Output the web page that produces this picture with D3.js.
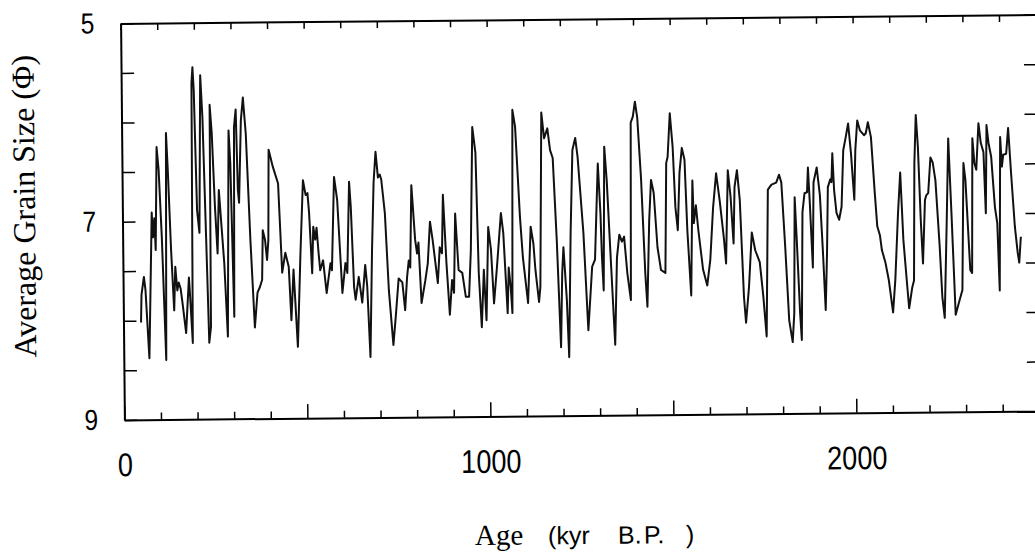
<!DOCTYPE html>
<html>
<head>
<meta charset="utf-8">
<script src="https://cdn.jsdelivr.net/npm/d3@7"></script>
<style>
  html, body { margin: 0; padding: 0; background: #fff; }
  svg { display: block; }
</style>
</head>
<body>
<svg id="chart" width="1035" height="558"></svg>
<script>
// Age (kyr B.P.)
const ages = [
  48,50,57,61,70,77,80,83,87,90,95,100,107,116,121,125,132,139,143,148,
  152,157,162,171,180,182,189,192,195,198,204,210,216,221,228,234,239,241,246,253,
  259,264,271,277,285,292,296,303,307,312,316,319,326,332,339,349,359,367,374,380,
  383,389,394,398,401,412,426,435,444,453,459,466,476,485,494,501,506,510,517,521,
  526,530,535,539,547,556,567,571,579,587,599,608,613,620,624,631,635,644,653,662,
  667,674,681,687,693,699,704,708,717,726,737,744,753,763,770,776,781,785,790,799,
  804,808,815,826,833,840,847,860,866,872,876,884,892,899,904,909,917,927,936,945,
  951,958,966,972,979,986,992,999,1006,1013,1022,1034,1040,1050,1054,1059,1063,1068,1075,1086,
  1093,1106,1115,1122,1127,1136,1140,1147,1154,1163,1170,1177,1186,1195,1200,1204,1212,1217,1224,1231,
  1239,1245,1259,1270,1282,1290,1300,1306,1309,1313,1318,1324,1334,1343,1350,1357,1364,1370,1378,1387,
  1391,1397,1403,1409,1418,1427,1432,1439,1445,1452,1461,1470,1482,1487,1491,1498,1505,1511,1517,1523,
  1530,1537,1543,1552,1558,1561,1567,1573,1585,1596,1605,1614,1623,1632,1643,1648,1655,1662,1669,1673,
  1680,1687,1696,1701,1710,1719,1728,1740,1749,1757,1764,1774,1787,1795,1801,1810,1819,1828,1833,1837,
  1842,1849,1853,1858,1864,1871,1874,1878,1885,1889,1898,1906,1913,1919,1924,1928,1935,1938,1941,1945,
  1951,1958,1965,1971,1978,1985,1992,2000,2004,2010,2017,2028,2033,2039,2047,2056,2062,2069,2074,2083,
  2092,2103,2110,2119,2126,2133,2141,2147,2156,2161,2165,2170,2175,2181,2186,2193,2197,2202,2209,2215,
  2222,2232,2238,2244,2252,2258,2265,2274,2283,2293,2299,2304,2311,2315,2320,2324,2329,2334,2341,2347,
  2354,2359,2363,2368,2375,2384,2390,2395,2400,2404,2408,2416,2422,2429,2438,2445,2449,2454
];
// Average grain size (phi)
const grainSize = [
  8.02,7.74,7.56,7.69,8.38,7.36,6.91,7.16,6.97,7.29,6.25,6.48,7.16,8.40,6.11,6.48,7.29,7.90,7.46,7.70,
  7.62,7.68,7.83,8.13,7.57,7.70,8.23,5.61,5.45,5.68,6.89,7.12,5.53,5.95,7.16,8.23,8.07,5.83,6.11,6.86,
  7.33,6.69,7.09,7.43,8.17,6.09,6.42,7.97,6.06,5.88,6.69,6.82,5.99,5.76,6.12,7.20,8.08,7.73,7.67,7.60,
  7.10,7.20,7.40,7.20,6.29,6.46,6.63,7.53,7.33,7.47,8.01,7.50,8.28,7.37,6.60,6.75,6.73,6.93,7.54,7.07,
  7.20,7.08,7.34,7.51,7.41,7.74,7.44,7.51,6.57,6.80,7.74,7.44,7.54,6.62,6.87,7.68,7.81,7.58,7.84,7.46,
  7.68,8.39,7.31,6.63,6.32,6.58,6.55,6.60,6.94,7.72,8.27,7.99,7.60,7.64,7.92,7.59,7.42,7.49,6.66,7.21,
  7.35,7.24,7.85,7.62,7.45,7.03,7.22,7.65,7.29,7.35,6.76,7.45,7.97,7.62,7.75,6.95,7.52,7.55,7.79,7.79,
  7.32,6.08,6.34,7.55,8.10,7.52,8.03,7.09,7.32,7.86,7.49,6.95,7.15,7.96,7.50,7.70,7.96,5.91,6.08,6.99,
  7.40,7.86,7.09,7.26,7.53,7.85,7.70,5.94,6.20,6.10,6.32,6.40,7.23,8.31,7.56,7.30,7.83,8.41,7.16,6.32,
  6.20,6.39,7.16,8.14,7.50,7.43,6.46,6.96,7.40,7.74,6.29,6.63,7.51,8.29,7.41,7.18,7.25,7.20,7.57,7.84,
  6.05,5.99,5.84,6.00,6.63,7.57,7.91,7.04,6.63,6.76,7.31,7.54,7.57,6.46,6.40,5.96,6.30,6.91,7.14,6.56,
  6.31,6.43,7.14,7.80,6.64,7.07,6.89,7.14,7.54,7.70,7.44,6.91,6.57,6.84,7.24,7.48,6.54,6.81,7.28,6.71,
  6.54,6.84,7.82,8.08,7.72,7.17,7.35,7.47,7.82,8.22,6.74,6.69,6.67,6.59,6.67,7.32,8.06,8.28,7.99,6.82,
  7.28,7.99,8.26,6.97,6.78,6.77,6.52,6.85,7.53,6.67,6.52,6.80,7.38,7.96,7.39,6.72,6.64,6.67,6.38,6.75,
  6.98,7.05,6.92,6.35,6.22,6.08,6.38,6.85,6.35,6.05,6.15,6.20,6.18,6.07,6.22,6.78,7.12,7.21,7.36,7.48,
  7.66,7.99,7.66,6.99,6.58,7.26,7.66,7.95,7.74,7.67,6.49,6.00,6.32,7.06,7.50,6.86,6.81,6.79,6.43,6.48,
  6.66,7.33,7.84,8.05,7.06,6.24,6.99,8.02,7.90,7.77,6.49,6.66,7.24,7.57,7.60,6.24,6.49,6.56,6.09,6.29,
  6.38,7.00,6.11,6.29,6.43,6.94,7.10,7.78,6.23,6.53,6.41,6.40,6.14,6.60,7.14,7.40,7.50,7.24
];
const xTicks = d3.range(0, 2501, 100);
const xTickLabels = [0, 1000, 2000];
const yTicks = d3.range(5, 9.001, 0.5);
const yTickLabels = [5, 7, 9];
const xDomain = [0, 2500];
const yDomain = [5, 9];

const svg = d3.select("#chart");
// the scanned figure is tilted slightly; reproduce the tilt
const root = svg.append("g").attr("transform", "rotate(-0.55,580,220)");

const x = d3.scaleLinear().domain(xDomain).range([122.5, 1037.5]);
const y = d3.scaleLinear().domain(yDomain).range([19, 415.5]);

const numFont = "'Liberation Sans', Arial, sans-serif";
const serifFont = "'Liberation Serif', 'Times New Roman', serif";

function styleAxis(g) {
  g.select(".domain").attr("stroke", "#000").attr("stroke-width", 2);
  g.selectAll(".tick line").attr("stroke", "#000").attr("stroke-width", 1.5);
}

// bottom axis
const gB = root.append("g")
  .attr("transform", `translate(0,${y(9)})`)
  .call(d3.axisBottom(x).tickValues(xTicks).tickSize(-7).tickSizeOuter(0)
        .tickPadding(33)
        .tickFormat(d => xTickLabels.includes(d) ? d : ""));
styleAxis(gB);
gB.selectAll(".tick").filter(d => d % 500 === 0).select("line").attr("y2", -14);
gB.selectAll(".tick text")
  .attr("font-family", numFont).attr("font-size", 33).attr("fill", "#000")
  .attr("transform", "scale(0.82,1)");

// top axis
const gT = root.append("g")
  .attr("transform", `translate(0,${y(5)})`)
  .call(d3.axisTop(x).tickValues(xTicks).tickSize(-7).tickSizeOuter(0).tickFormat(""));
styleAxis(gT);

// left axis
const gL = root.append("g")
  .attr("transform", `translate(${x(0)},0)`)
  .call(d3.axisLeft(y).tickValues(yTicks).tickSize(-13).tickSizeOuter(0)
        .tickPadding(26)
        .tickFormat(d => yTickLabels.includes(d) ? d : ""));
styleAxis(gL);
gL.selectAll(".tick text")
  .attr("font-family", numFont).attr("font-size", 29).attr("fill", "#000")
  .attr("transform", "scale(0.85,1)").attr("dx", "-5");

// right axis
const gR = root.append("g")
  .attr("transform", `translate(${x(2500)},0)`)
  .call(d3.axisRight(y).tickValues(yTicks).tickSize(-12).tickSizeOuter(0).tickFormat(""));
styleAxis(gR);

// data line
const line = d3.line().x((d, i) => x(ages[i])).y(d => y(d));
root.append("path")
  .datum(grainSize)
  .attr("d", line)
  .attr("fill", "none")
  .attr("stroke", "#111")
  .attr("stroke-width", 2)
  .attr("stroke-linejoin", "round");

// y-axis title
root.append("text")
  .attr("transform", "translate(35,201) rotate(-90)")
  .attr("text-anchor", "middle")
  .attr("font-family", serifFont)
  .attr("font-size", 32)
  .attr("fill", "#000")
  .text("Average Grain Size (Φ)");

// x-axis title
const xt = root.append("text").attr("y", 544).attr("fill", "#000");
xt.append("tspan").attr("x", 472)
  .attr("font-family", serifFont).attr("font-size", 29)
  .text("Age");
const sansParts = [["(kyr", 545], ["B.", 615], ["P.", 641], [")", 683]];
sansParts.forEach(([t, px]) => {
  xt.append("tspan").attr("x", px)
    .attr("font-family", numFont).attr("font-size", 25)
    .text(t);
});
</script>
</body>
</html>
